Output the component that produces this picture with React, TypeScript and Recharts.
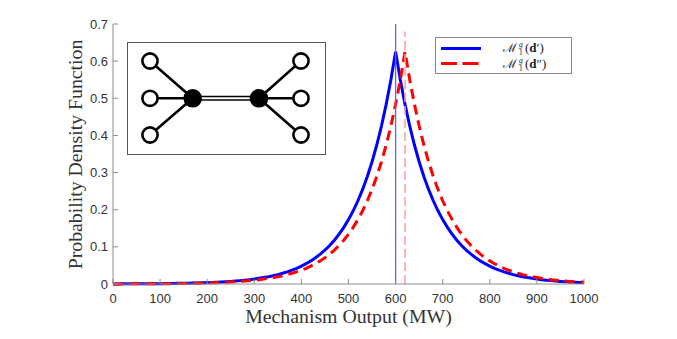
import React from "react";
import { LineChart, Line, XAxis, YAxis, ReferenceLine } from "recharts";

const outputMW = [
  0, 10, 20, 30, 40, 50, 60, 70, 80, 90,
  100, 110, 120, 130, 140, 150, 160, 170, 180, 190,
  200, 210, 220, 230, 240, 250, 260, 270, 280, 290,
  300, 310, 320, 330, 340, 350, 360, 370, 380, 390,
  400, 410, 420, 430, 440, 450, 460, 470, 480, 490,
  500, 510, 520, 530, 540, 550, 560, 570, 580, 590,
  600, 610, 620, 630, 640, 650, 660, 670, 680, 690,
  700, 710, 720, 730, 740, 750, 760, 770, 780, 790,
  800, 810, 820, 830, 840, 850, 860, 870, 880, 890,
  900, 910, 920, 930, 940, 950, 960, 970, 980, 990,
  1000,
];

const pdfDPrime = [
  0.0003, 0.0003, 0.0004, 0.0004, 0.0005, 0.0005, 0.0006, 0.0007, 0.0008, 0.0009,
  0.001, 0.0012, 0.0013, 0.0015, 0.0017, 0.002, 0.0022, 0.0025, 0.0029, 0.0033,
  0.0037, 0.0042, 0.0048, 0.0054, 0.0062, 0.007, 0.008, 0.0091, 0.0103, 0.0117,
  0.0133, 0.0152, 0.0173, 0.0196, 0.0223, 0.0253, 0.0288, 0.0328, 0.0372, 0.0423,
  0.0481, 0.0547, 0.0622, 0.0707, 0.0803, 0.0913, 0.1038, 0.118, 0.1342, 0.1525,
  0.1734, 0.1971, 0.2241, 0.2547, 0.2896, 0.3292, 0.3742, 0.4254, 0.4836, 0.5498,
  0.625,
  0.5498, 0.4836, 0.4254, 0.3742, 0.3292, 0.2896, 0.2547, 0.2241, 0.1971, 0.1734,
  0.1525, 0.1342, 0.118, 0.1038, 0.0913, 0.0803, 0.0707, 0.0622, 0.0547, 0.0481,
  0.0423, 0.0372, 0.0328, 0.0288, 0.0253, 0.0223, 0.0196, 0.0173, 0.0152, 0.0133,
  0.0117, 0.0103, 0.0091, 0.008, 0.007, 0.0062, 0.0054, 0.0048, 0.0042, 0.0037,
];

const pdfDDoublePrime = [
  0.0002, 0.0003, 0.0003, 0.0003, 0.0004, 0.0004, 0.0005, 0.0005, 0.0006, 0.0007,
  0.0008, 0.0009, 0.001, 0.0012, 0.0013, 0.0015, 0.0017, 0.002, 0.0022, 0.0025,
  0.0029, 0.0033, 0.0037, 0.0042, 0.0048, 0.0054, 0.0062, 0.007, 0.008, 0.0091,
  0.0103, 0.0117, 0.0133, 0.0152, 0.0173, 0.0196, 0.0223, 0.0253, 0.0288, 0.0328,
  0.0372, 0.0423, 0.0481, 0.0547, 0.0622, 0.0707, 0.0803, 0.0913, 0.1038, 0.118,
  0.1342, 0.1525, 0.1734, 0.1971, 0.2241, 0.2547, 0.2896, 0.3292, 0.3742, 0.4254,
  0.4836, 0.5498,
  0.625,
  0.5498, 0.4836, 0.4254, 0.3742, 0.3292, 0.2896, 0.2547, 0.2241, 0.1971, 0.1734,
  0.1525, 0.1342, 0.118, 0.1038, 0.0913, 0.0803, 0.0707, 0.0622, 0.0547, 0.0481,
  0.0423, 0.0372, 0.0328, 0.0288, 0.0253, 0.0223, 0.0196, 0.0173, 0.0152, 0.0133,
  0.0117, 0.0103, 0.0091, 0.008, 0.007, 0.0062, 0.0054, 0.0048,
];

const xTicks = [0, 100, 200, 300, 400, 500, 600, 700, 800, 900, 1000];
const yTicks = [0, 0.1, 0.2, 0.3, 0.4, 0.5, 0.6, 0.7];
const meanDPrime = 600;
const meanDDoublePrime = 620;
const blueMarkerTop = 0.7;
const redMarkerTop = 0.68;
const legendLabels = ["′", "″"];

const data = outputMW.map((x, i) => ({
  x,
  dp: pdfDPrime[i],
  ddp: pdfDDoublePrime[i],
}));

const blueMarker = [
  { x: meanDPrime, m: 0 },
  { x: meanDPrime, m: blueMarkerTop },
];

const AXIS_GRAY = "#8c8c8c";
const TICK_TEXT = "#333333";
const SERIF = "'Liberation Serif', 'DejaVu Serif', serif";

function LegendMath({ y, prime }: { y: number; prime: string }) {
  return (
    <g fill="#222">
      <text x={503} y={y} fontFamily="'DejaVu Serif', serif" fontSize={12}>
        ℳ
      </text>
      <text x={519} y={y - 5} fontFamily={SERIF} fontStyle="italic" fontSize={7.5}>
        g
      </text>
      <text x={519} y={y + 3} fontFamily={SERIF} fontSize={7.5}>
        1
      </text>
      <text x={525} y={y} fontFamily={SERIF} fontSize={13}>
        (<tspan fontWeight="bold">d</tspan>
        {prime})
      </text>
    </g>
  );
}

function Overlay() {
  const left = [
    [150, 61],
    [150, 98.3],
    [150, 135],
  ];
  const right = [
    [301, 61],
    [301, 98.3],
    [301, 135],
  ];
  const a = [192.7, 98.3];
  const b = [259, 98.3];
  return (
    <svg
      width={677}
      height={339}
      style={{ position: "absolute", left: 0, top: 0, pointerEvents: "none" }}
    >
      {/* inset diagram */}
      <rect x={127.5} y={42.5} width={198} height={112} fill="#fff" stroke="#555" strokeWidth={1} />
      {left.map(([x, y], i) => (
        <line key={"l" + i} x1={x} y1={y} x2={a[0]} y2={a[1]} stroke="#000" strokeWidth={2.6} />
      ))}
      {right.map(([x, y], i) => (
        <line key={"r" + i} x1={x} y1={y} x2={b[0]} y2={b[1]} stroke="#000" strokeWidth={2.6} />
      ))}
      <line x1={a[0]} y1={a[1]} x2={b[0]} y2={b[1]} stroke="#000" strokeWidth={5} />
      <line x1={a[0]} y1={a[1]} x2={b[0]} y2={b[1]} stroke="#fff" strokeWidth={2} />
      {left.concat(right).map(([x, y], i) => (
        <circle key={"c" + i} cx={x} cy={y} r={7.6} fill="#fff" stroke="#000" strokeWidth={2.6} />
      ))}
      <circle cx={a[0]} cy={a[1]} r={9.3} fill="#000" />
      <circle cx={b[0]} cy={b[1]} r={9.3} fill="#000" />

      {/* legend */}
      <rect x={435.5} y={37.5} width={136} height={36} fill="#fff" stroke="#888" strokeWidth={1} />
      <line x1={441} y1={48.5} x2={481} y2={48.5} stroke="#0000ff" strokeWidth={3} />
      <line x1={441} y1={63.5} x2={481} y2={63.5} stroke="#ff0000" strokeWidth={3} strokeDasharray="16 5.5" />
      <LegendMath y={51.5} prime={legendLabels[0]} />
      <LegendMath y={67.5} prime={legendLabels[1]} />

      {/* axis titles */}
      <text x={348.5} y={323} textAnchor="middle" fontFamily={SERIF} fontSize={19.8} fill="#333">
        Mechanism Output (MW)
      </text>
      <text
        x={82}
        y={154.5}
        textAnchor="middle"
        fontFamily={SERIF}
        fontSize={19.8}
        fill="#333"
        transform="rotate(-90 82 154.5)"
      >
        Probability Density Function
      </text>
    </svg>
  );
}

export default function App() {
  return (
    <div
      style={{
        position: "absolute",
        left: 0,
        top: 0,
        width: 677,
        height: 339,
        background: "#fff",
      }}
    >
      <LineChart
        width={677}
        height={339}
        data={data}
        margin={{ top: 24, right: 93, bottom: 25, left: 53 }}
      >
        <XAxis
          dataKey="x"
          type="number"
          domain={[0, 1000]}
          ticks={xTicks}
          height={30}
          tickSize={-5}
          tickMargin={15}
          stroke={AXIS_GRAY}
          tick={{ fill: TICK_TEXT, fontSize: 13, fontFamily: "'Liberation Sans', Arial, sans-serif" }}
          interval={0}
          allowDuplicatedCategory={false}
        />
        <YAxis
          type="number"
          domain={[0, 0.7]}
          ticks={yTicks}
          width={60}
          tickSize={-5}
          tickMargin={10}
          stroke={AXIS_GRAY}
          tickFormatter={(v: number) => String(v)}
          tick={{ fill: TICK_TEXT, fontSize: 13, fontFamily: "'Liberation Sans', Arial, sans-serif" }}
          interval={0}
        />
        <Line
          type="linear"
          dataKey="dp"
          stroke="#0000ff"
          strokeWidth={3}
          dot={false}
          isAnimationActive={false}
        />
        <Line
          type="linear"
          dataKey="ddp"
          stroke="#ff0000"
          strokeWidth={3}
          strokeDasharray="10 6"
          dot={false}
          isAnimationActive={false}
        />
        <Line
          data={blueMarker}
          type="linear"
          dataKey="m"
          stroke="#6262ff"
          strokeWidth={1.3}
          dot={false}
          activeDot={false}
          isAnimationActive={false}
        />
        <ReferenceLine
          segment={[
            { x: meanDDoublePrime, y: 0 },
            { x: meanDDoublePrime, y: redMarkerTop },
          ]}
          stroke="#ff9e9e"
          strokeWidth={1.5}
          strokeDasharray="9 4"
        />
      </LineChart>
      <Overlay />
    </div>
  );
}
